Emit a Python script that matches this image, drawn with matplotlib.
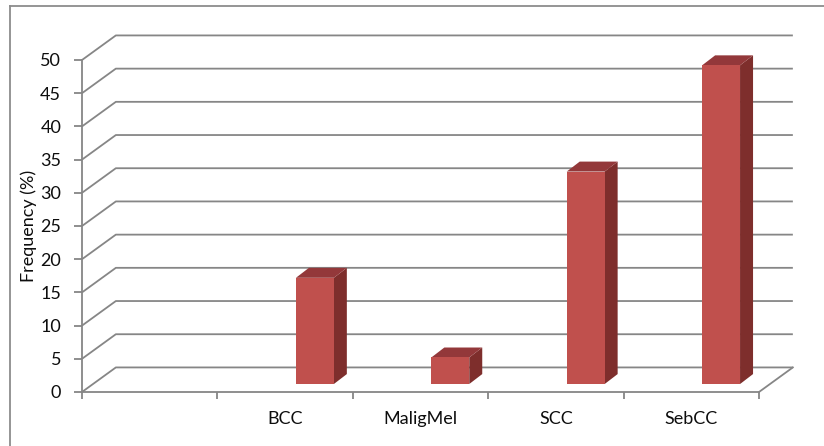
import numpy as np
import matplotlib
matplotlib.use("Agg")
import matplotlib.pyplot as plt
from matplotlib.lines import Line2D

categories = ["", "BCC", "MaligMel", "SCC", "SebCC"]
values = [np.nan, 16, 4, 32, 48]
yticks = list(range(0, 55, 5))
ylabel = "Frequency (%)"

plt.rcParams['font.family'] = ['Lato', 'DejaVu Sans']

W, H = 824, 446
fig = plt.figure(figsize=(W / 100, H / 100), dpi=100)
ax = fig.add_axes([82 / W, (H - 392) / H, 677 / W, 332 / H])
ax.set_xlim(0, len(categories))
ax.set_ylim(0, 50)

grid_c = "#868686"
txt_c = "#0d0d0d"
DX, DY = 0.25, 3.7  # floor depth in data units

# back gridlines and left wall diagonals
for v in yticks:
    ax.plot([0, DX, len(categories) + DX], [v, v + DY, v + DY],
            color=grid_c, lw=1.3, clip_on=False, zorder=1, solid_capstyle='butt')
# floor right edge
ax.plot([len(categories), len(categories) + DX], [0, DY], color=grid_c, lw=1.3,
        clip_on=False, zorder=1)

# bars
front_c, side_c, top_c = "#C0504D", "#7E2E2C", "#93383A"
hw = 0.14
shift = 0.22
base = 1.2
bdx, bdy = 0.096, 1.5
for i, v in enumerate(values):
    if np.isnan(v):
        continue
    xc = i + 0.5 + shift
    x0, x1 = xc - hw, xc + hw
    y0, y1 = base, base + v
    ax.fill([x1, x1 + bdx, x1 + bdx, x1], [y0, y0 + bdy, y1 + bdy, y1],
            color=side_c, lw=0, zorder=3, clip_on=False)
    ax.fill([x0, x1, x1 + bdx, x0 + bdx], [y1, y1, y1 + bdy, y1 + bdy],
            color=top_c, lw=0, zorder=3, clip_on=False)
    ax.fill([x0, x1, x1, x0], [y0, y0, y1, y1],
            color=front_c, lw=0, zorder=4, clip_on=False)

# axes styling
for s in ["top", "right"]:
    ax.spines[s].set_visible(False)
for s in ["left", "bottom"]:
    ax.spines[s].set_color(grid_c)
    ax.spines[s].set_linewidth(1.3)
    ax.spines[s].set_zorder(2)
ax.set_yticks(yticks)
ax.set_yticklabels([str(t) for t in yticks], fontsize=13, color=txt_c)
ax.tick_params(axis="y", length=6, width=1.3, color=grid_c, pad=9)
ax.set_xticks(range(len(categories) + 1))
ax.set_xticklabels([])
ax.set_xticks([i + 0.5 for i in range(len(categories))], minor=True)
ax.set_xticklabels(categories, minor=True, fontsize=13, color=txt_c)
ax.tick_params(axis="x", which="major", length=5, width=1.3, color=grid_c)
ax.tick_params(axis="x", which="minor", length=0, pad=14)
ax.set_ylabel(ylabel, fontsize=13, color=txt_c, labelpad=2)
ax.patch.set_visible(False)

# chart border (top and left visible)
fig.add_artist(Line2D([10 / W, 1], [1 - 6 / H, 1 - 6 / H], color="#8c8c8c", lw=1.3,
                      transform=fig.transFigure))
fig.add_artist(Line2D([10 / W, 10 / W], [0, 1 - 6 / H], color="#8c8c8c", lw=1.3,
                      transform=fig.transFigure))

fig.savefig("out.png", dpi=100, facecolor="white")
